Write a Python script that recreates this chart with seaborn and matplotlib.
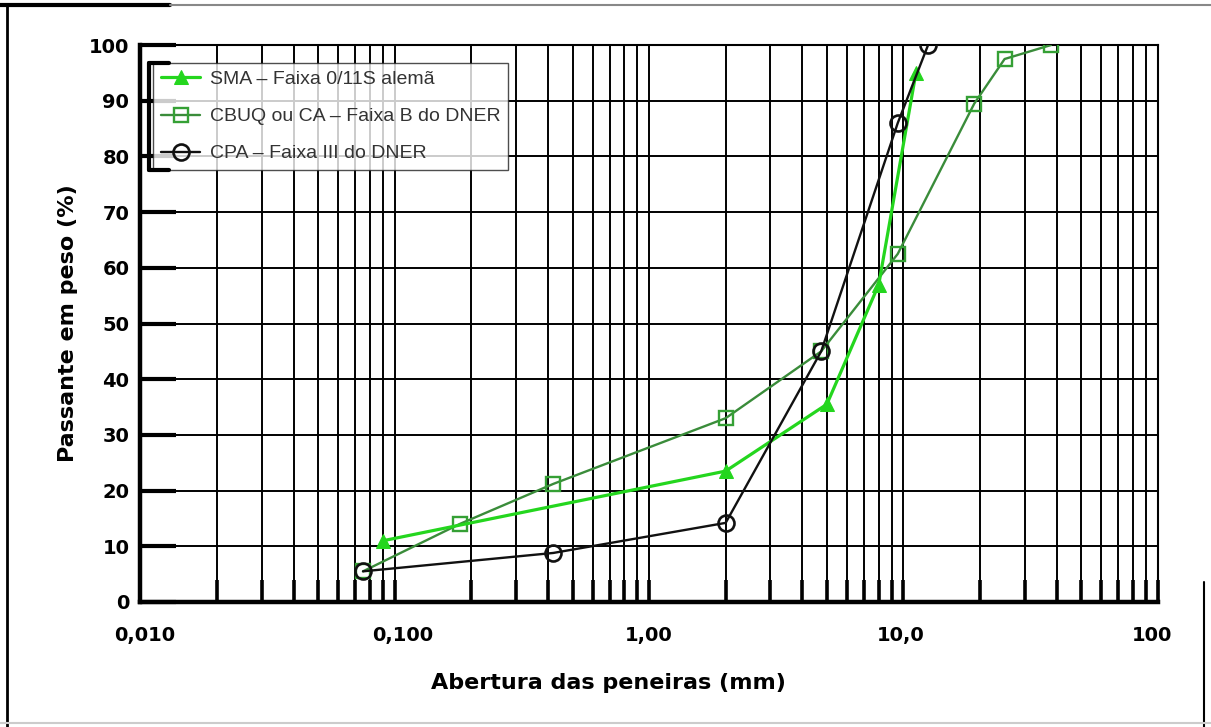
import numpy as np
import pandas as pd
import matplotlib
matplotlib.use("Agg")
import matplotlib.pyplot as plt
from matplotlib.lines import Line2D
from matplotlib.ticker import FixedLocator, NullFormatter
from matplotlib.transforms import ScaledTranslation
import seaborn as sns

# ---------------- data ----------------
sma_x = [0.09, 2.0, 5.0, 8.0, 11.2]
sma_y = [11.0, 23.5, 35.5, 57.0, 95.0]

cbuq_x = [0.075, 0.18, 0.42, 2.0, 4.75, 9.5, 19.0, 25.0, 38.0]
cbuq_y = [5.5, 14.0, 21.2, 33.0, 45.0, 62.5, 89.5, 97.5, 100.0]

cpa_x = [0.075, 0.42, 2.0, 4.75, 9.5, 12.5]
cpa_y = [5.5, 8.8, 14.2, 45.0, 86.0, 100.0]

series_names = ["SMA \u2013 Faixa 0/11S alem\u00e3",
                "CBUQ ou CA \u2013 Faixa B do DNER",
                "CPA \u2013 Faixa III do DNER"]

x_tick_vals = [0.01, 0.1, 1.0, 10.0, 100.0]
x_tick_labels = ["0,010", "0,100", "1,00", "10,0", "100"]
y_tick_vals = list(range(0, 101, 10))

x_label = "Abertura das peneiras (mm)"
y_label = "Passante em peso (%)"

# ---------------- style ----------------
sns.set_theme(style="white")
plt.rcParams["font.family"] = ["DejaVu Sans"]

fig = plt.figure(figsize=(12.11, 7.27), dpi=100)
ax = fig.add_axes([0.116, 0.172, 0.840, 0.766])

df_sma = pd.DataFrame({"x": sma_x, "y": sma_y})
df_cbuq = pd.DataFrame({"x": cbuq_x, "y": cbuq_y})
df_cpa = pd.DataFrame({"x": cpa_x, "y": cpa_y})

sma_col = "#24d61e"
cbuq_col = "#3a8c3a"
sns.lineplot(data=df_sma, x="x", y="y", ax=ax, estimator=None, sort=False,
             color=sma_col, linewidth=2.3, marker="^", markersize=10,
             markerfacecolor=sma_col, markeredgecolor=sma_col,
             label=series_names[0], zorder=5)
sns.lineplot(data=df_cbuq, x="x", y="y", ax=ax, estimator=None, sort=False,
             color=cbuq_col, linewidth=1.7, marker="s", markersize=10.5,
             markerfacecolor="none", markeredgecolor="#35a035", markeredgewidth=1.7,
             label=series_names[1], zorder=4)
sns.lineplot(data=df_cpa, x="x", y="y", ax=ax, estimator=None, sort=False,
             color="#111111", linewidth=1.7, marker="o", markersize=11.5,
             markerfacecolor="none", markeredgecolor="#111111", markeredgewidth=1.9,
             label=series_names[2], zorder=6)

ax.set_xscale("log")
ax.set_xlim(0.01, 100)
ax.set_ylim(0, 100)

ax.xaxis.set_major_locator(FixedLocator(x_tick_vals))
ax.set_xticklabels(x_tick_labels)
minors = [m * d for d in [0.01, 0.1, 1, 10] for m in range(2, 10)]
ax.xaxis.set_minor_locator(FixedLocator(minors))
ax.xaxis.set_minor_formatter(NullFormatter())
ax.set_yticks(y_tick_vals)

ax.grid(True, which="both", axis="x", color="black", linewidth=1.4, zorder=1)
ax.grid(True, which="major", axis="y", color="black", linewidth=1.4, zorder=1)
ax.set_axisbelow(True)

ax.tick_params(axis="x", which="both", direction="in", length=16, width=2.6,
               color="black", bottom=True, top=False, pad=17)
ax.tick_params(axis="y", which="major", direction="in", length=26, width=3,
               color="black", left=True, right=False, pad=8)
for lab in ax.get_xticklabels() + ax.get_yticklabels():
    lab.set_fontweight("bold")
    lab.set_fontsize(14)
    lab.set_color("black")

# small horizontal offsets of the x tick labels as in the scan
label_shift_px = [4, 8, 0, -3, -6]
for lab, dxp in zip(ax.get_xticklabels(), label_shift_px):
    lab.set_transform(lab.get_transform() + ScaledTranslation(dxp / 100, 0, fig.dpi_scale_trans))

for side, lw in [("left", 3.2), ("bottom", 3.2), ("top", 1.5), ("right", 1.5)]:
    ax.spines[side].set_visible(True)
    ax.spines[side].set_color("black")
    ax.spines[side].set_linewidth(lw)

ax.set_xlabel(x_label, fontsize=16, fontweight="bold", color="black")
ax.xaxis.set_label_coords(0.46, -0.127)
ax.set_ylabel(y_label, fontsize=16, fontweight="bold", labelpad=8, color="black")

leg = ax.legend(loc="upper left", bbox_to_anchor=(0.0128, 0.968), frameon=True,
                fancybox=False, edgecolor="#222222",
                prop={"family": ["Liberation Sans", "DejaVu Sans"], "size": 14},
                handlelength=2.0, borderpad=0.4, labelspacing=1.0,
                handletextpad=0.5, borderaxespad=0)
leg.get_frame().set_linewidth(1.0)
for t in leg.get_texts():
    t.set_color("#333333")
leg.set_zorder(10)

# bracket on legend left side
fig.canvas.draw()
bb = leg.get_window_extent().transformed(fig.transFigure.inverted())
dx = 4 / 1211
stub = 20 / 1211
y0, y1 = bb.y0, bb.y1
xb = bb.x0 - dx
for xs, ys in [([xb, xb], [y0, y1]), ([xb, xb + stub], [y1, y1]), ([xb, xb + stub], [y0, y0])]:
    fig.add_artist(Line2D(xs, ys, transform=fig.transFigure, color="black", linewidth=3, zorder=11))

# figure border (scan frame)
fig.add_artist(Line2D([0.006, 0.006], [0.0, 0.993], transform=fig.transFigure, color="black", linewidth=2))
fig.add_artist(Line2D([0.0, 0.14], [0.993, 0.993], transform=fig.transFigure, color="black", linewidth=3))
fig.add_artist(Line2D([0.14, 1.0], [0.993, 0.993], transform=fig.transFigure, color="#888888", linewidth=1.5))
fig.add_artist(Line2D([0.994, 0.994], [0.0, 0.2], transform=fig.transFigure, color="black", linewidth=1.5))
fig.add_artist(Line2D([0.0, 1.0], [0.006, 0.006], transform=fig.transFigure, color="#cccccc", linewidth=1.5))

fig.savefig("out.png", dpi=100)
